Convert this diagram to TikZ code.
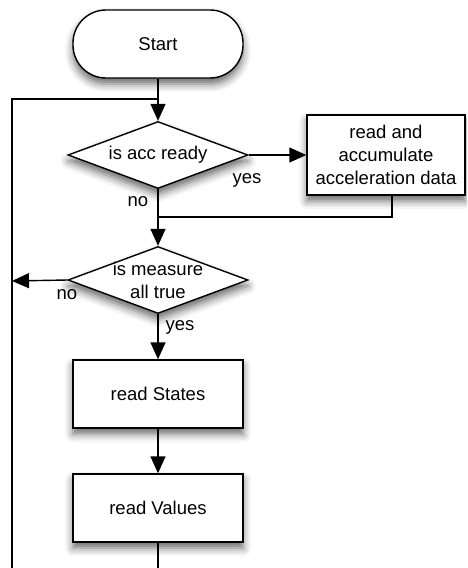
\documentclass[tikz,border=0pt]{standalone}
\usepackage{fontspec}
\setmainfont{Liberation Sans}
\usetikzlibrary{arrows.meta,shapes.geometric,shadows.blur}

\tikzset{
  txt/.style={font=\fontsize{18.5}{23}\selectfont},
  base/.style={txt, draw=black, line width=1.4pt, fill=white,
    blur shadow={shadow xshift=0pt, shadow yshift=-6pt,
                 shadow blur radius=8pt, shadow opacity=60}},
  terminal/.style={base, rectangle, rounded corners=33pt,
    minimum width=170pt, minimum height=68pt},
  process/.style={base, rectangle, align=center,
    minimum width=170pt, minimum height=68pt},
  decision/.style={base, diamond, inner sep=0pt, aspect=2.69,
    minimum width=180pt, minimum height=67pt},
  flow/.style={line width=1.4pt, -{Triangle[width=15pt,length=17pt]}},
  plain/.style={line width=1.4pt},
  tag/.style={txt}
}

\begin{document}
\begin{tikzpicture}[x=1pt,y=-1pt]
  \useasboundingbox (0,0) rectangle (467,568);
  \clip (0,0) rectangle (467,568);

  % flowchart blocks
  \node[terminal] (start) at (158,44) {Start};
  \node[decision, label={[tag]center:is acc ready}] (acc) at (158,155) {};
  \node[process, minimum width=158pt, minimum height=80pt] (accum) at (386,155)
    {read and\\accumulate\\acceleration data};
  \node[decision, label={[tag,align=center]center:is measure\\all true}] (meas) at (158,280) {};
  \node[process] (states) at (158,394) {read States};
  \node[process] (values) at (158,508) {read Values};

  % junction points of the loop and the merge
  \coordinate (loopjoin) at (158,99);
  \coordinate (merge) at (158,217);
  \coordinate (loopbottom) at (158,600);
  \coordinate (loopleft) at (12,99);
  \coordinate (noexit) at (12,281);

  % connectors
  \draw[flow] (start) -- (acc);
  \draw[flow] (acc) -- (accum);
  \draw[plain] ([xshift=6pt]accum.south) |- (merge);
  \draw[flow] (acc) -- (meas);
  \draw[flow] (meas.west) -- (noexit);
  \draw[flow] (meas) -- (states);
  \draw[flow] (states) -- (values);
  \draw[plain] (values.south) -- (loopbottom) -| (loopleft) -- (loopjoin);

  % branch labels
  \node[tag] (yes1) at (247,180) {yes};
  \node[tag] (no1) at (138,202) {no};
  \node[tag] (no2) at (67,295) {no};
  \node[tag] (yes2) at (180,327) {yes};
\end{tikzpicture}
\end{document}
